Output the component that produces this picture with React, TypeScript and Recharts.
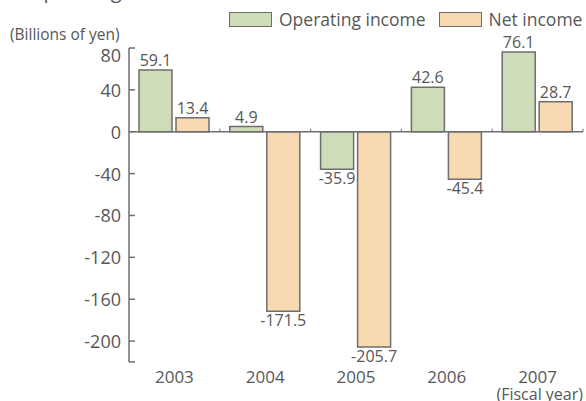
import React from "react";
import {
  BarChart,
  Bar,
  XAxis,
  YAxis,
  ReferenceLine,
  LabelList,
} from "recharts";

const years = ["2003", "2004", "2005", "2006", "2007"];
const operatingIncome = [59.1, 4.9, -35.9, 42.6, 76.1];
const netIncome = [13.4, -171.5, -205.7, -45.4, 28.7];
const yTicks = [80, 40, 0, -40, -80, -120, -160, -200, -220];

const seriesNames = ["Operating income", "Net income"];
const seriesFills = ["#cedcb9", "#f9d9b1"];

const data = years.map((year, i) => ({
  year,
  op: operatingIncome[i],
  net: netIncome[i],
}));

const FONT = "'Open Sans', sans-serif";
const TEXT = "#575757";
const LINE = "#6e6e6e";

const YTick = (props) => {
  const { x, y, payload } = props;
  const v = payload.value;
  return (
    <g>
      <line x1={x} x2={x + 6} y1={y} y2={y} stroke={LINE} strokeWidth={1.5} />
      {v !== -220 && (
        <text
          x={x - 8}
          y={y + (v === 80 ? 7 : 0)}
          textAnchor="end"
          dominantBaseline="central"
          fill={TEXT}
          fontSize={18}
          fontFamily={FONT}
        >
          {v}
        </text>
      )}
    </g>
  );
};

const XTick = (props) => {
  const { x, y, payload } = props;
  return (
    <text
      x={x}
      y={y + 14}
      textAnchor="middle"
      dominantBaseline="central"
      fill={TEXT}
      fontSize={17}
      fontFamily={FONT}
    >
      {payload.value}
    </text>
  );
};

const ValueLabel = (props) => {
  const vb = props.viewBox || props;
  const { x, y, width, height } = vb;
  const v = Number(props.value);
  const top = Math.min(y, y + height);
  const bottom = Math.max(y, y + height);
  const ty = v >= 0 ? top - 10 : bottom + 9;
  return (
    <text
      x={x + width / 2}
      y={ty}
      textAnchor="middle"
      dominantBaseline="central"
      fill={TEXT}
      fontSize={16}
      fontFamily={FONT}
    >
      {v.toFixed(1)}
    </text>
  );
};

// zero line with small marks at category boundaries
const ZeroLine = (props) => {
  const { x1, x2, y1 } = props;
  const step = (x2 - x1) / years.length;
  return (
    <g>
      <line x1={x1} x2={x2} y1={y1} y2={y1} stroke={LINE} strokeWidth={1.5} />
      {years.map((_, i) => (
        <line
          key={i}
          x1={x1 + step * (i + 1)}
          x2={x1 + step * (i + 1)}
          y1={y1}
          y2={y1 - 3}
          stroke={LINE}
          strokeWidth={1}
        />
      ))}
    </g>
  );
};

export default function App() {
  return (
    <div
      style={{
        position: "absolute",
        left: 0,
        top: 0,
        width: 586,
        height: 401,
        fontFamily: FONT,
        color: TEXT,
        overflow: "hidden",
      }}
    >
      <div
        style={{
          position: "absolute",
          left: 28,
          top: -21,
          fontSize: 20,
          lineHeight: "24px",
          whiteSpace: "nowrap",
        }}
      >
        Operating income and net income
      </div>
      <div
        style={{
          position: "absolute",
          left: 229,
          top: 10,
          display: "flex",
          alignItems: "center",
          fontSize: 17.5,
          lineHeight: "18px",
          whiteSpace: "nowrap",
        }}
      >
        {seriesNames.map((name, i) => (
          <div
            key={name}
            style={{ display: "flex", alignItems: "center", marginRight: 13 }}
          >
            <span
              style={{
                display: "inline-block",
                width: 41,
                height: 13,
                background: seriesFills[i],
                border: `1.5px solid ${LINE}`,
                marginRight: 7,
              }}
            />
            <span>{name}</span>
          </div>
        ))}
      </div>
      <div
        style={{
          position: "absolute",
          left: 10,
          top: 25,
          fontSize: 15.5,
          lineHeight: "18px",
          whiteSpace: "nowrap",
        }}
      >
        (Billions of yen)
      </div>
      <div
        style={{
          position: "absolute",
          right: 3,
          top: 387,
          fontSize: 16,
          lineHeight: "14px",
          whiteSpace: "nowrap",
        }}
      >
        (Fiscal year)
      </div>
      <BarChart
        width={586}
        height={401}
        data={data}
        margin={{ top: 48, right: 3, bottom: 0, left: 0 }}
        barGap={4}
      >
        <XAxis
          dataKey="year"
          axisLine={false}
          tickLine={false}
          height={39}
          tickSize={0}
          tickMargin={0}
          tick={<XTick />}
          interval={0}
        />
        <YAxis
          width={129}
          domain={[-220, 80]}
          ticks={yTicks}
          interval={0}
          axisLine={{ stroke: LINE, strokeWidth: 1.5 }}
          tickLine={false}
          tickSize={0}
          tickMargin={0}
          tick={<YTick />}
        />
        <Bar
          dataKey="op"
          fill={seriesFills[0]}
          stroke={LINE}
          strokeWidth={1.5}
          barSize={33}
          isAnimationActive={false}
        >
          <LabelList dataKey="op" content={ValueLabel} />
        </Bar>
        <Bar
          dataKey="net"
          fill={seriesFills[1]}
          stroke={LINE}
          strokeWidth={1.5}
          barSize={33}
          isAnimationActive={false}
        >
          <LabelList dataKey="net" content={ValueLabel} />
        </Bar>
        <ReferenceLine y={0} shape={ZeroLine} />
      </BarChart>
    </div>
  );
}
